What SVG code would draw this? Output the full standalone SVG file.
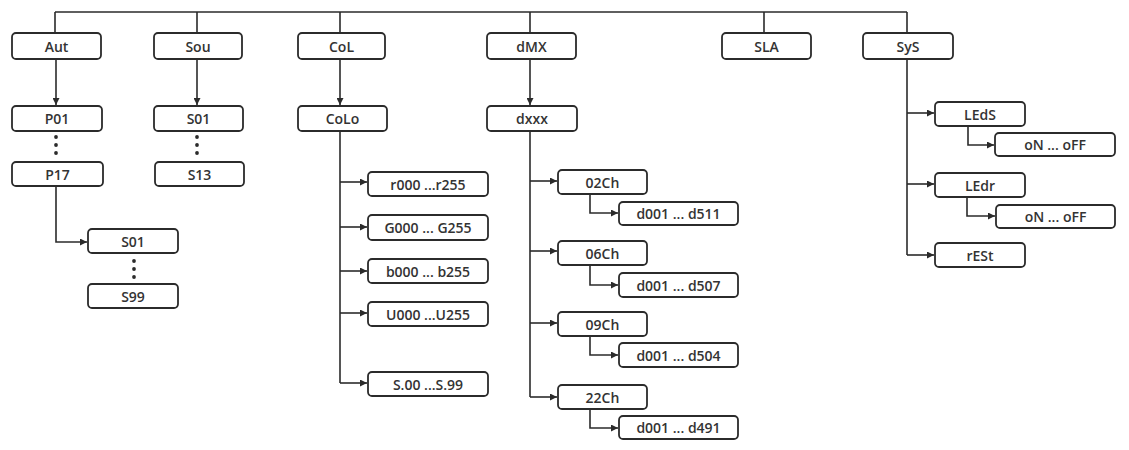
<svg xmlns="http://www.w3.org/2000/svg" width="1129" height="450" viewBox="0 0 1129 450">
<style>
.box{fill:#fff;stroke:#2b2b2b;stroke-width:1.8}
.ln{fill:none;stroke:#2b2b2b;stroke-width:1.6}
.t{font-family:"Open Sans","Noto Sans",sans-serif;font-size:14px;font-weight:600;fill:#333;text-anchor:middle;dominant-baseline:central}
.dot{fill:#2b2b2b}
</style>
<defs>
<marker id="ah" viewBox="0 0 8 8" refX="8" refY="4" markerWidth="7" markerHeight="7" markerUnits="userSpaceOnUse" orient="auto">
<path d="M0,0 L8,4 L0,8 z" fill="#2b2b2b"/>
</marker>
</defs>
<rect width="1129" height="450" fill="#fff"/>
<g id="connectors">
<path class="ln" d="M55,12 H907 M55,12 V33 M197,12 V33 M340,12 V33 M530,12 V33 M764,12 V33 M907,12 V33"/>
<path class="ln" d="M56,60 V105" marker-end="url(#ah)"/>
<path class="ln" d="M197,60 V105" marker-end="url(#ah)"/>
<path class="ln" d="M340,60 V105" marker-end="url(#ah)"/>
<path class="ln" d="M530,60 V105" marker-end="url(#ah)"/>
<path class="ln" d="M56,186 V242 H87" marker-end="url(#ah)"/>
<path class="ln" d="M340,131 V383"/>
<path class="ln" d="M340,182 H367" marker-end="url(#ah)"/>
<path class="ln" d="M340,227 H367" marker-end="url(#ah)"/>
<path class="ln" d="M340,271 H367" marker-end="url(#ah)"/>
<path class="ln" d="M340,313 H367" marker-end="url(#ah)"/>
<path class="ln" d="M340,383 H367" marker-end="url(#ah)"/>
<path class="ln" d="M530,131 V397"/>
<path class="ln" d="M530,181 H557" marker-end="url(#ah)"/>
<path class="ln" d="M530,251 H557" marker-end="url(#ah)"/>
<path class="ln" d="M530,323 H557" marker-end="url(#ah)"/>
<path class="ln" d="M530,397 H557" marker-end="url(#ah)"/>
<path class="ln" d="M590,194 V213 H618" marker-end="url(#ah)"/>
<path class="ln" d="M590,265 V285 H618" marker-end="url(#ah)"/>
<path class="ln" d="M590,336 V355 H618" marker-end="url(#ah)"/>
<path class="ln" d="M590,409 V428 H618" marker-end="url(#ah)"/>
<path class="ln" d="M907,60 V255"/>
<path class="ln" d="M907,113 H934" marker-end="url(#ah)"/>
<path class="ln" d="M907,184 H934" marker-end="url(#ah)"/>
<path class="ln" d="M907,255 H934" marker-end="url(#ah)"/>
<path class="ln" d="M968,126 V145 H994" marker-end="url(#ah)"/>
<path class="ln" d="M967,197 V216 H995" marker-end="url(#ah)"/>
</g>
<g id="dots">
<circle class="dot" cx="56" cy="137" r="1.9"/><circle class="dot" cx="56" cy="145" r="1.9"/><circle class="dot" cx="56" cy="153" r="1.9"/>
<circle class="dot" cx="197" cy="137" r="1.9"/><circle class="dot" cx="197" cy="145" r="1.9"/><circle class="dot" cx="197" cy="153" r="1.9"/>
<circle class="dot" cx="134" cy="261" r="1.9"/><circle class="dot" cx="134" cy="269" r="1.9"/><circle class="dot" cx="134" cy="277" r="1.9"/>
</g>
<g id="n-aut"><rect class="box" x="12" y="33" width="89" height="26" rx="4"/><text class="t" x="56.5" y="46">Aut</text></g>
<g id="n-sou"><rect class="box" x="154" y="33" width="88" height="26" rx="4"/><text class="t" x="198" y="46">Sou</text></g>
<g id="n-col"><rect class="box" x="298" y="33" width="87" height="26" rx="4"/><text class="t" x="341.5" y="46">CoL</text></g>
<g id="n-dmx"><rect class="box" x="487" y="33" width="89" height="26" rx="4"/><text class="t" x="531.5" y="46">dMX</text></g>
<g id="n-sla"><rect class="box" x="722" y="33" width="89" height="26" rx="4"/><text class="t" x="766.5" y="46">SLA</text></g>
<g id="n-sys"><rect class="box" x="863" y="33" width="90" height="26" rx="4"/><text class="t" x="908" y="46">SyS</text></g>
<g id="n-p01"><rect class="box" x="12" y="106" width="90" height="25" rx="4"/><text class="t" x="57" y="118.5">P01</text></g>
<g id="n-p17"><rect class="box" x="12" y="162" width="91" height="24" rx="4"/><text class="t" x="57.5" y="174">P17</text></g>
<g id="n-as01"><rect class="box" x="88" y="229" width="90" height="24" rx="4"/><text class="t" x="133" y="241">S01</text></g>
<g id="n-as99"><rect class="box" x="88" y="284" width="90" height="24" rx="4"/><text class="t" x="133" y="296">S99</text></g>
<g id="n-s01"><rect class="box" x="154" y="106" width="89" height="25" rx="4"/><text class="t" x="198.5" y="118.5">S01</text></g>
<g id="n-s13"><rect class="box" x="155" y="162" width="89" height="24" rx="4"/><text class="t" x="199.5" y="174">S13</text></g>
<g id="n-colo"><rect class="box" x="298" y="106" width="89" height="25" rx="4"/><text class="t" x="342.5" y="118.5">CoLo</text></g>
<g id="n-r"><rect class="box" x="368" y="172" width="120" height="24" rx="4"/><text class="t" x="428" y="184">r000 ...r255</text></g>
<g id="n-g"><rect class="box" x="368" y="215" width="120" height="25" rx="4"/><text class="t" x="428" y="227.5">G000 ... G255</text></g>
<g id="n-b"><rect class="box" x="368" y="259" width="120" height="24" rx="4"/><text class="t" x="428" y="271">b000 ... b255</text></g>
<g id="n-u"><rect class="box" x="368" y="302" width="120" height="24" rx="4"/><text class="t" x="428" y="314">U000 ...U255</text></g>
<g id="n-s"><rect class="box" x="368" y="372" width="120" height="24" rx="4"/><text class="t" x="428" y="384">S.00 ...S.99</text></g>
<g id="n-dxxx"><rect class="box" x="487" y="106" width="90" height="25" rx="4"/><text class="t" x="532" y="118.5">dxxx</text></g>
<g id="n-02ch"><rect class="box" x="558" y="170" width="89" height="24" rx="4"/><text class="t" x="602.5" y="182">02Ch</text></g>
<g id="n-d511"><rect class="box" x="619" y="202" width="119" height="23" rx="4"/><text class="t" x="678.5" y="213.5">d001 ... d511</text></g>
<g id="n-06ch"><rect class="box" x="558" y="241" width="89" height="24" rx="4"/><text class="t" x="602.5" y="253">06Ch</text></g>
<g id="n-d507"><rect class="box" x="619" y="273" width="119" height="24" rx="4"/><text class="t" x="678.5" y="285">d001 ... d507</text></g>
<g id="n-09ch"><rect class="box" x="558" y="312" width="89" height="24" rx="4"/><text class="t" x="602.5" y="324">09Ch</text></g>
<g id="n-d504"><rect class="box" x="619" y="343" width="119" height="24" rx="4"/><text class="t" x="678.5" y="355">d001 ... d504</text></g>
<g id="n-22ch"><rect class="box" x="558" y="385" width="89" height="24" rx="4"/><text class="t" x="602.5" y="397">22Ch</text></g>
<g id="n-d491"><rect class="box" x="619" y="416" width="119" height="23" rx="4"/><text class="t" x="678.5" y="427.5">d001 ... d491</text></g>
<g id="n-leds"><rect class="box" x="935" y="102" width="90" height="24" rx="4"/><text class="t" x="980" y="114">LEdS</text></g>
<g id="n-on1"><rect class="box" x="995" y="133" width="120" height="23" rx="4"/><text class="t" x="1055" y="144.5">oN ... oFF</text></g>
<g id="n-ledr"><rect class="box" x="935" y="173" width="90" height="24" rx="4"/><text class="t" x="980" y="185">LEdr</text></g>
<g id="n-on2"><rect class="box" x="996" y="205" width="119" height="23" rx="4"/><text class="t" x="1055.5" y="216.5">oN ... oFF</text></g>
<g id="n-rest"><rect class="box" x="935" y="243" width="90" height="24" rx="4"/><text class="t" x="980" y="255">rESt</text></g>
</svg>
